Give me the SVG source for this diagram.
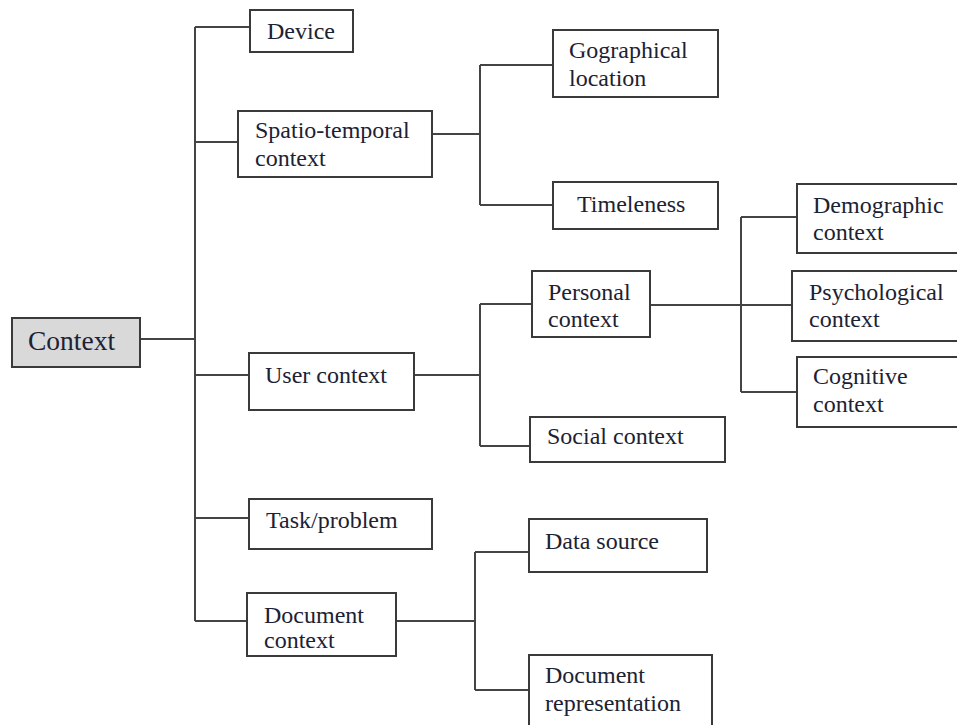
<svg xmlns="http://www.w3.org/2000/svg" width="957" height="725" viewBox="0 0 957 725">
<style>
rect{fill:#fff;stroke:#3a3a3a;stroke-width:2}
.root rect{fill:#d9d9d9}
text{font-family:"Liberation Serif","Times New Roman",serif;font-size:24px;fill:#1c2233}
.root text{font-size:27.5px}
#connectors path{fill:none;stroke:#444;stroke-width:2}
</style>
<rect x="0" y="0" width="957" height="725" style="fill:#fff;stroke:none"/>
<g id="connectors">
<path d="M140 339H195M195 27V621M195 27H250M195 142H238M195 375H249M195 518H249M195 621H247"/>
<path d="M432 134H480M480 65V205M480 65H553M480 205H553"/>
<path d="M414 375H480M480 304V446M480 304H532M480 446H530"/>
<path d="M650 305H792M741 217V392M741 217H797M741 392H797"/>
<path d="M396 621H475M475 552V690M475 552H529M475 690H529"/>
</g>
<g id="context" class="root"><rect x="12" y="318" width="128" height="49"/><text x="28" y="350">Context</text></g>
<g id="device"><rect x="250" y="10" width="103" height="42"/><text x="267" y="39">Device</text></g>
<g id="spatio"><rect x="238" y="111" width="194" height="66"/><text x="255" y="138">Spatio-temporal</text><text x="255" y="166">context</text></g>
<g id="geo"><rect x="553" y="30" width="165" height="67"/><text x="569" y="58">Gographical</text><text x="569" y="86">location</text></g>
<g id="time"><rect x="553" y="182" width="165" height="47"/><text x="577" y="212">Timeleness</text></g>
<g id="user"><rect x="249" y="353" width="165" height="57"/><text x="265" y="383">User context</text></g>
<g id="personal"><rect x="532" y="271" width="118" height="66"/><text x="548" y="300">Personal</text><text x="548" y="327">context</text></g>
<g id="social"><rect x="530" y="417" width="195" height="45"/><text x="547" y="444">Social context</text></g>
<g id="demo"><rect x="797" y="184" width="170" height="69"/><text x="813" y="213">Demographic</text><text x="813" y="240">context</text></g>
<g id="psych"><rect x="792" y="271" width="175" height="70"/><text x="809" y="300">Psychological</text><text x="809" y="327">context</text></g>
<g id="cog"><rect x="797" y="357" width="170" height="70"/><text x="813" y="384">Cognitive</text><text x="813" y="412">context</text></g>
<g id="task"><rect x="249" y="499" width="183" height="50"/><text x="266" y="528">Task/problem</text></g>
<g id="doc"><rect x="247" y="593" width="149" height="63"/><text x="264" y="623">Document</text><text x="264" y="648">context</text></g>
<g id="datasrc"><rect x="529" y="519" width="178" height="53"/><text x="545" y="549">Data source</text></g>
<g id="docrep"><rect x="529" y="655" width="183" height="75"/><text x="545" y="683">Document</text><text x="545" y="711">representation</text></g>
</svg>
